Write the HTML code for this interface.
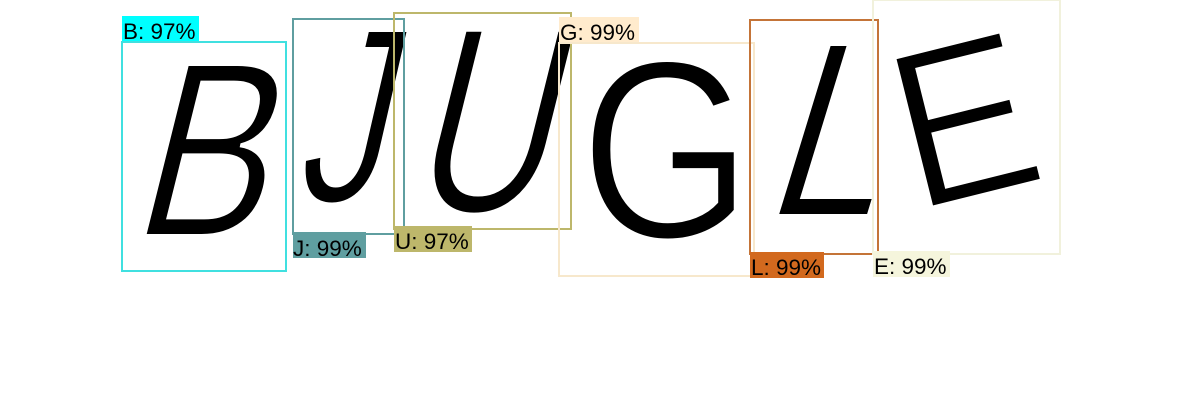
<!DOCTYPE html>
<html><head><meta charset="utf-8"><style>
html,body{margin:0;padding:0;background:#fff;}
svg{display:block;font-family:"Liberation Sans",Arial,sans-serif;}
</style></head><body>
<svg width="1200" height="420" viewBox="0 0 1200 420">
<rect width="1200" height="420" fill="#fff"/>
<g fill="#000" stroke="#fff" stroke-width="4" font-size="250">
  <text transform="translate(128,236) skewX(-14)" textLength="135" lengthAdjust="spacingAndGlyphs">B</text>
  <text transform="translate(292,202) skewX(-13)" textLength="90" lengthAdjust="spacingAndGlyphs">J</text>
  <text transform="translate(405,212) skewX(-14)" font-size="265" textLength="140" lengthAdjust="spacingAndGlyphs">U</text>
  <text transform="translate(580,238)" font-size="255" textLength="172" lengthAdjust="spacingAndGlyphs">G</text>
  <text transform="translate(760,216) skewX(-17)" font-size="250" textLength="115" lengthAdjust="spacingAndGlyphs">L</text>
  <text transform="translate(915,212) rotate(-14)" font-size="225" textLength="140" lengthAdjust="spacingAndGlyphs">E</text>
</g>
<g fill="none" stroke-width="2">
  <rect x="122" y="42" width="164" height="229" stroke="#40e0e0"/>
  <rect x="293" y="19" width="111" height="215" stroke="#5f9ea0"/>
  <rect x="394" y="13" width="177" height="216" stroke="#bdb76b"/>
  <rect x="559" y="43" width="195" height="233" stroke="#f7e8cc"/>
  <rect x="750" y="20" width="128" height="234" stroke="#c47438"/>
  <rect x="873" y="0" width="187" height="254" stroke="#f1f1dc"/>
</g>
<g font-size="22.5" fill="#000">
  <rect x="122" y="16" width="77" height="25" fill="#00ffff"/>
  <text x="123" y="39">B: 97%</text>
  <rect x="293" y="232" width="73" height="26" fill="#5f9ea0"/>
  <text x="293" y="256">J: 99%</text>
  <rect x="394" y="226" width="78" height="26" fill="#bdb76b"/>
  <text x="395" y="249">U: 97%</text>
  <rect x="559" y="17" width="80" height="25" fill="#ffebcd"/>
  <text x="560" y="40">G: 99%</text>
  <rect x="750" y="252" width="74" height="26" fill="#d2691e"/>
  <text x="751" y="275">L: 99%</text>
  <rect x="873" y="251" width="77" height="26" fill="#f5f5dc"/>
  <text x="874" y="274">E: 99%</text>
</g>
</svg>
</body></html>
